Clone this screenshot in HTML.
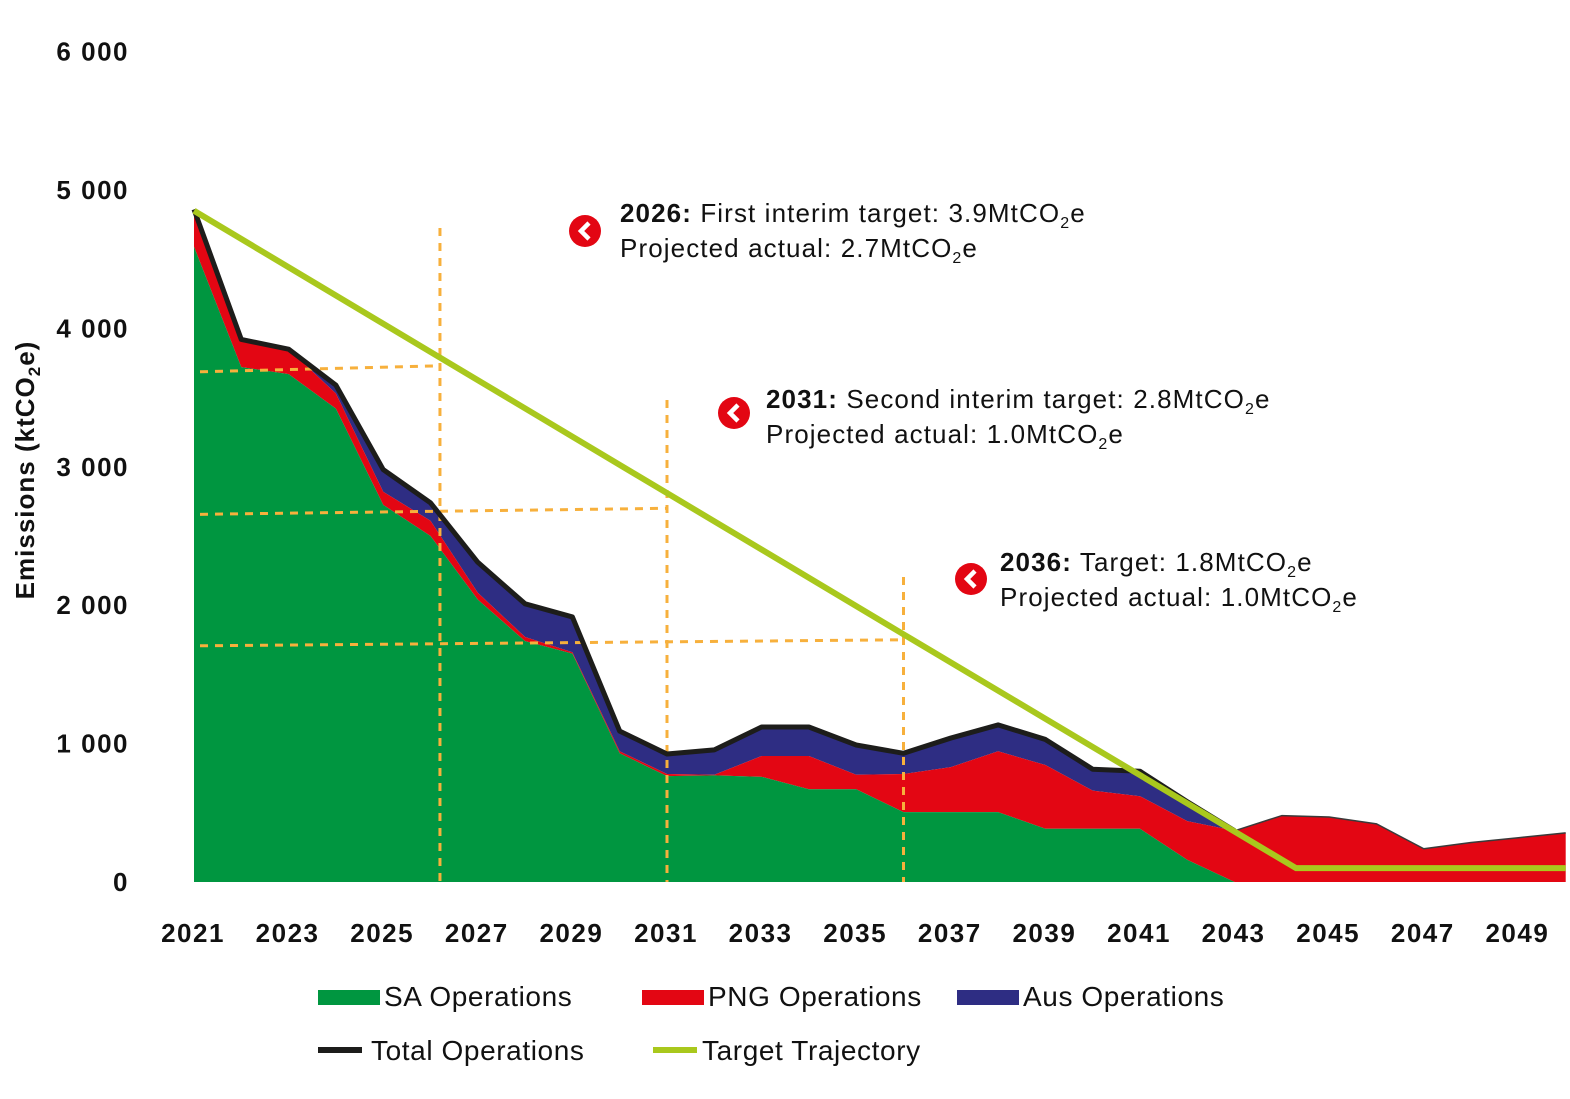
<!DOCTYPE html>
<html><head><meta charset="utf-8"><style>
html,body{margin:0;padding:0;background:#fff;}
svg{display:block;font-family:"Liberation Sans",sans-serif;}
</style></head><body>
<svg id="chart" width="1570" height="1099" viewBox="0 0 1570 1099" xmlns="http://www.w3.org/2000/svg">
<g id="areas"></g>
<g id="guides"></g>
<g id="lines"></g>
<g id="axes"></g>
<text transform="translate(34,470) rotate(-90)" text-anchor="middle" font-size="26" font-weight="bold" letter-spacing="1" fill="#111">Emissions  (ktCO<tspan font-size="17" dy="6">2</tspan><tspan dy="-6">e)</tspan></text>
<g font-size="26" letter-spacing="1.1">
<circle cx="585" cy="231" r="16" fill="#e30613"/>
<path d="M589 223 L581 231 L589 239" stroke="#fff" stroke-width="4.5" fill="none"/>
<text x="620" y="222" fill="#111"><tspan font-weight="bold">2026:</tspan> First interim target: 3.9MtCO<tspan font-size="16" dy="6">2</tspan><tspan dy="-6">e</tspan></text>
<text x="620" y="257" fill="#111">Projected actual: 2.7MtCO<tspan font-size="16" dy="6">2</tspan><tspan dy="-6">e</tspan></text>
</g>
<g font-size="26" letter-spacing="1.1">
<circle cx="734" cy="413" r="16" fill="#e30613"/>
<path d="M738 405 L730 413 L738 421" stroke="#fff" stroke-width="4.5" fill="none"/>
<text x="766" y="408" fill="#111"><tspan font-weight="bold">2031:</tspan> Second interim target: 2.8MtCO<tspan font-size="16" dy="6">2</tspan><tspan dy="-6">e</tspan></text>
<text x="766" y="443" fill="#111">Projected actual: 1.0MtCO<tspan font-size="16" dy="6">2</tspan><tspan dy="-6">e</tspan></text>
</g>
<g font-size="26" letter-spacing="1.1">
<circle cx="971" cy="579" r="16" fill="#e30613"/>
<path d="M975 571 L967 579 L975 587" stroke="#fff" stroke-width="4.5" fill="none"/>
<text x="1000" y="571" fill="#111"><tspan font-weight="bold">2036:</tspan> Target: 1.8MtCO<tspan font-size="16" dy="6">2</tspan><tspan dy="-6">e</tspan></text>
<text x="1000" y="606" fill="#111">Projected actual: 1.0MtCO<tspan font-size="16" dy="6">2</tspan><tspan dy="-6">e</tspan></text>
</g>
<g font-size="28" letter-spacing="0.6" fill="#111">
<g><rect x="318" y="990" width="62" height="15" fill="#009640"/><text x="384" y="1006">SA Operations</text></g>
<g><rect x="642" y="990" width="62" height="15" fill="#e30613"/><text x="708" y="1006">PNG Operations</text></g>
<g><rect x="957" y="990" width="62" height="15" fill="#2e2d83"/><text x="1023" y="1006">Aus Operations</text></g>
<g><rect x="318" y="1047" width="44" height="6" fill="#1d1d1b"/><text x="371" y="1060">Total Operations</text></g>
<g><rect x="653" y="1047" width="44" height="6" fill="#a9c81d"/><text x="702" y="1060">Target Trajectory</text></g>
</g>
</svg>
<script>
const years = [2021,2022,2023,2024,2025,2026,2027,2028,2029,2030,2031,2032,2033,2034,2035,2036,2037,2038,2039,2040,2041,2042,2043,2044,2045,2046,2047,2048,2049,2050];
const saOps  = [4590,3720,3670,3420,2725,2500,2040,1740,1650,930,765,770,760,670,670,505,505,505,385,385,385,160,0,0,0,0,0,0,0,0];
const pngOps = [260,200,180,110,95,110,50,30,10,15,15,5,150,240,105,275,325,440,460,275,235,280,370,480,470,420,240,285,320,355];
const ausOps = [10,0,0,60,160,130,220,240,255,145,145,180,210,210,215,150,210,190,185,155,180,140,0,0,0,0,0,0,0,0];
const targetYears = [2021,2026,2031,2036,2044.3,2050];
const targetVals  = [4850,3830,2810,1790,100,100];
const yTicks = [0,1000,2000,3000,4000,5000,6000];
const yTickLabels = ["0","1 000","2 000","3 000","4 000","5 000","6 000"];
const xTickYears = [2021,2023,2025,2027,2029,2031,2033,2035,2037,2039,2041,2043,2045,2047,2049];
const guideVals = [3730,2700,1750];
const guideYears = [2026.2,2031,2036];

const NS="http://www.w3.org/2000/svg";
function X(yr){return 194+(yr-2021)*47.3;}
function Y(v){return 882-v*0.1384;}
function mk(parent,tag,attrs){const e=document.createElementNS(NS,tag);for(const k in attrs)e.setAttribute(k,attrs[k]);parent.appendChild(e);return e;}
const areas=document.getElementById('areas'),lines=document.getElementById('lines'),axes=document.getElementById('axes'),guides=document.getElementById('guides');

const s1=saOps, s2=saOps.map((v,i)=>v+pngOps[i]), s3=s2.map((v,i)=>v+ausOps[i]);
function band(lo,hi){
  let d='M'+X(years[0])+','+Y(hi[0]);
  for(let i=1;i<years.length;i++)d+=' L'+X(years[i])+','+Y(hi[i]);
  for(let i=years.length-1;i>=0;i--)d+=' L'+X(years[i])+','+Y(lo?lo[i]:0);
  return d+'Z';
}
function line(vals,yrs){return yrs.map((y,i)=>(i?'L':'M')+X(y)+','+Y(vals[i])).join(' ');}

let p=mk(areas,'path',{d:band(s2,s3),fill:'#2e2d83'});


p=mk(areas,'path',{d:band(s1,s2),fill:'#e30613'});


p=mk(areas,'path',{d:band(null,s1),fill:'#009640'});



guideYears.forEach((gy,i)=>{
  const top={0:228,1:400,2:577}[i];
  let g=mk(guides,'line',{x1:X(gy),y1:top,x2:X(gy),y2:882,stroke:'#f7b03c','stroke-width':3,'stroke-dasharray':'8 7'});
  
  
  g=mk(guides,'line',{x1:200,y1:Y(guideVals[i])+6,x2:X(gy),y2:Y(guideVals[i]),stroke:'#f7b03c','stroke-width':3,'stroke-dasharray':'8 7'});
  
  
});

const cut = years.indexOf(2043);
p=mk(lines,'path',{d:line(s3.slice(0,cut+1),years.slice(0,cut+1)),stroke:'#1d1d1b','stroke-width':5,fill:'none','stroke-linejoin':'round'});


p=mk(lines,'path',{d:line(s3.slice(cut),years.slice(cut)),stroke:'#3a3a3a','stroke-width':1.5,fill:'none'});


p=mk(lines,'path',{d:line(targetVals,targetYears),stroke:'#a9c81d','stroke-width':6,fill:'none'});



yTicks.forEach((v,i)=>{
  const t=mk(axes,'text',{x:129,y:Y(v)+9,'text-anchor':'end','font-size':26,'font-weight':'bold','letter-spacing':1.5,fill:'#111'});
  t.textContent=yTickLabels[i];
  
  
});
xTickYears.forEach(yr=>{
  const t=mk(axes,'text',{x:X(yr)-1,y:942,'text-anchor':'middle','font-size':26,'font-weight':'bold','letter-spacing':1.5,fill:'#111'});
  t.textContent=yr;
  
  
});
</script>
</body></html>
